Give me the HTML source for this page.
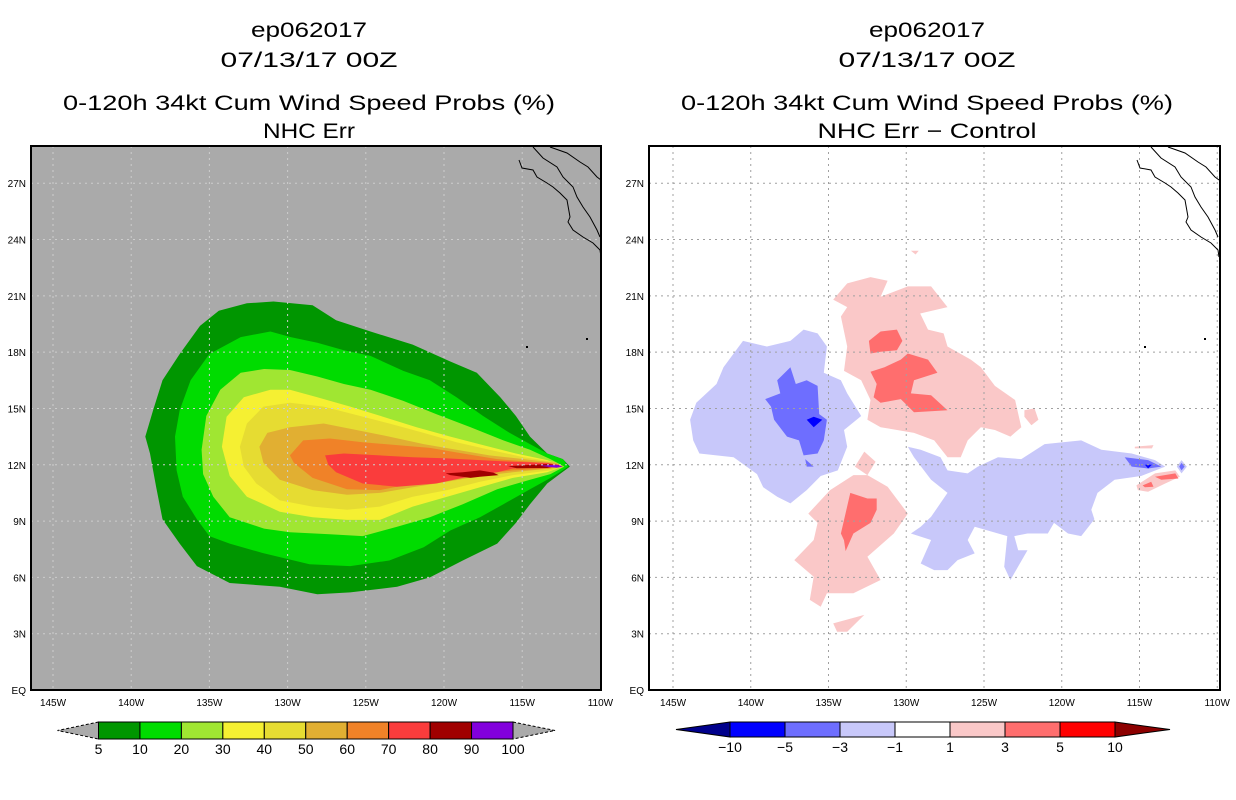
<!DOCTYPE html>
<html><head><meta charset="utf-8">
<style>
html,body{margin:0;padding:0;background:#fff;}
svg{display:block;font-family:"Liberation Sans",sans-serif;}
</style></head>
<body>
<svg id="chart" width="1236" height="800" viewBox="0 0 1236 800" xmlns="http://www.w3.org/2000/svg">
<defs>
<clipPath id="clipL"><rect x="31" y="146" width="570" height="544"/></clipPath>
<clipPath id="clipR"><rect x="649" y="146" width="571" height="544"/></clipPath>
</defs>
<g font-size="21" text-anchor="middle" fill="#000">
<text x="309" y="37" textLength="116" lengthAdjust="spacingAndGlyphs">ep062017</text>
<text x="309" y="67" textLength="177" lengthAdjust="spacingAndGlyphs">07/13/17 00Z</text>
<text x="309" y="110" textLength="492" lengthAdjust="spacingAndGlyphs">0-120h 34kt Cum Wind Speed Probs (%)</text>
<text x="309" y="138" textLength="92" lengthAdjust="spacingAndGlyphs">NHC Err</text>
</g>
<g font-size="21" text-anchor="middle" fill="#000">
<text x="927" y="37" textLength="116" lengthAdjust="spacingAndGlyphs">ep062017</text>
<text x="927" y="67" textLength="177" lengthAdjust="spacingAndGlyphs">07/13/17 00Z</text>
<text x="927" y="110" textLength="492" lengthAdjust="spacingAndGlyphs">0-120h 34kt Cum Wind Speed Probs (%)</text>
<text x="927" y="138" textLength="219" lengthAdjust="spacingAndGlyphs">NHC Err − Control</text>
</g>
<rect x="31" y="146" width="570" height="544" fill="#aaaaaa"/>
<rect x="649" y="146" width="571" height="544" fill="#ffffff"/>
<g id="leftFills" clip-path="url(#clipL)"></g>
<g id="rightFills" clip-path="url(#clipR)"></g>
<g id="grids"></g>
<g id="coasts" fill="none" stroke="#000" stroke-width="1"></g>
<rect x="31" y="146" width="570" height="544" fill="none" stroke="#000" stroke-width="2"/>
<rect x="649" y="146" width="571" height="544" fill="none" stroke="#000" stroke-width="2"/>
<g id="ticks" font-size="10" fill="#000"></g>
<g id="cbars"></g>
</svg>
<script>
const lonTicks = [-145,-140,-135,-130,-125,-120,-115,-110];
const lonTickLabels = ["145W","140W","135W","130W","125W","120W","115W","110W"];
const latTicks = [0,3,6,9,12,15,18,21,24,27];
const latTickLabels = ["EQ","3N","6N","9N","12N","15N","18N","21N","24N","27N"];

const probLevels = ["5","10","20","30","40","50","60","70","80","90","100"];
const probColors = ["#009600","#00dc00","#a0e632","#f5f032","#e6dc32","#e1af32","#f08228","#fa3c3c","#a00000","#8200dc"];
const diffLevels = ["-10","-5","-3","-1","1","3","5","10"];
const diffColors = ["#0000ff","#6e6eff","#c8c8fa","#ffffff","#fac8c8","#ff6e6e","#ff0000"];

const p5 = [[-139.1,13.5],[-138.6,14.9],[-138.0,16.5],[-136.9,17.9],[-135.6,19.4],[-134.4,20.2],[-132.6,20.6],[-130.9,20.7],[-128.4,20.5],[-126.9,19.7],[-124.7,19.1],[-122.0,18.4],[-119.6,17.5],[-117.9,16.9],[-116.4,15.6],[-115.4,14.6],[-114.5,13.5],[-113.4,12.6],[-112.4,12.3],[-111.95,11.9],[-112.6,11.5],[-113.4,11.0],[-114.5,9.9],[-115.4,8.9],[-116.6,7.8],[-118.8,6.9],[-120.9,6.0],[-123.0,5.5],[-126.0,5.2],[-128.1,5.1],[-130.5,5.5],[-133.7,5.7],[-135.8,6.6],[-136.9,7.8],[-138.0,9.1],[-138.4,10.8],[-138.8,12.6]];
const p10 = [[-137.2,13.5],[-136.9,14.9],[-136.2,16.5],[-135.0,17.9],[-133.0,18.8],[-131.1,19.1],[-129.8,18.8],[-128.1,18.5],[-126.4,18.1],[-124.7,17.8],[-122.6,17.0],[-120.9,16.5],[-119.2,15.6],[-117.5,14.6],[-115.8,13.7],[-114.5,13.1],[-113.4,12.6],[-112.4,12.3],[-112.05,11.9],[-112.6,11.6],[-113.4,11.2],[-114.5,10.7],[-116.2,9.9],[-117.7,9.2],[-119.6,8.5],[-121.3,7.6],[-123.5,6.9],[-126.0,6.6],[-128.6,6.7],[-131.6,7.3],[-133.7,7.8],[-135.0,8.2],[-135.8,9.1],[-136.7,10.3],[-137.1,11.7]];
const p20 = [[-135.5,12.8],[-135.2,14.6],[-134.3,16.0],[-133.0,16.9],[-131.5,17.1],[-129.85,17.05],[-128.1,16.7],[-126.4,16.3],[-124.7,16.0],[-122.6,15.4],[-120.5,14.7],[-118.3,14.0],[-116.2,13.3],[-114.5,12.8],[-113.2,12.3],[-112.3,11.9],[-113.2,11.5],[-114.5,11.2],[-116.6,10.7],[-118.8,9.9],[-120.9,9.2],[-123.0,8.7],[-125.2,8.2],[-127.3,8.3],[-129.85,8.4],[-131.5,8.6],[-133.7,9.2],[-134.75,10.3],[-135.4,11.5]];
const p30 = [[-134.2,12.96],[-133.9,14.56],[-132.8,15.6],[-131.1,16.0],[-129.85,16.0],[-128.1,15.6],[-126.0,15.1],[-123.9,14.56],[-121.75,14.0],[-119.6,13.5],[-117.5,13.05],[-115.4,12.6],[-113.4,12.25],[-112.4,11.9],[-113.4,11.6],[-115.6,11.3],[-117.7,10.8],[-119.8,10.3],[-122.0,9.77],[-124.1,9.06],[-126.2,9.06],[-128.4,9.2],[-130.5,9.5],[-132.6,10.3],[-133.7,11.4]];
const p40 = [[-133.05,12.96],[-132.6,14.2],[-131.55,15.1],[-129.85,15.3],[-127.7,15.1],[-125.6,14.65],[-123.5,14.2],[-121.3,13.7],[-119.2,13.2],[-117.1,12.8],[-114.9,12.4],[-113.0,12.16],[-112.4,11.9],[-113.2,11.7],[-115.6,11.45],[-117.7,11.1],[-119.8,10.65],[-122.0,10.3],[-124.1,9.77],[-126.2,9.6],[-128.4,9.77],[-130.5,10.1],[-132.0,11.0],[-132.8,11.9]];
const p50 = [[-131.8,12.96],[-131.3,13.7],[-129.85,14.0],[-127.7,14.2],[-125.6,13.85],[-123.5,13.5],[-121.3,13.1],[-119.2,12.8],[-117.1,12.5],[-114.9,12.3],[-112.8,12.1],[-112.4,11.9],[-113.2,11.8],[-115.6,11.6],[-117.7,11.4],[-119.8,11.1],[-122.0,10.8],[-124.1,10.5],[-126.2,10.4],[-128.4,10.65],[-130.5,11.2],[-131.55,12.1]];
const p60 = [[-129.85,12.5],[-129.0,13.3],[-127.3,13.4],[-125.2,13.2],[-123.0,13.05],[-120.9,12.9],[-118.8,12.6],[-116.6,12.3],[-114.5,12.16],[-112.6,12.0],[-113.2,11.8],[-115.6,11.7],[-117.7,11.5],[-119.8,11.3],[-122.0,11.0],[-124.1,10.65],[-126.2,10.7],[-128.4,11.3],[-129.6,12.1]];
const p70 = [[-127.6,12.5],[-126.4,12.6],[-124.1,12.5],[-122.0,12.4],[-119.8,12.34],[-117.7,12.25],[-115.6,12.16],[-113.4,12.1],[-112.6,11.97],[-113.4,11.86],[-115.6,11.8],[-116.6,11.6],[-118.8,11.3],[-120.5,11.0],[-123.0,10.83],[-125.2,11.0],[-126.9,11.6],[-127.4,12.0]];
const p80a = [[-119.9,11.54],[-118.8,11.6],[-117.7,11.7],[-116.85,11.58],[-116.5,11.45],[-117.7,11.36],[-118.3,11.3],[-119.6,11.45]];
const p80b = [[-115.9,11.93],[-113.4,12.04],[-112.6,11.97],[-113.4,11.83],[-115.35,11.81]];
const p90 = [[-113.9,11.95],[-112.8,12.0],[-112.4,11.9],[-112.8,11.84]];

const dBlueLight1 = [[-143.9,14.4],[-143.5,15.3],[-142.2,16.3],[-141.75,17.2],[-140.5,18.6],[-138.96,18.3],[-137.45,18.6],[-136.6,19.2],[-135.7,19.0],[-135.1,18.3],[-135.3,16.9],[-134.2,16.5],[-133.8,15.8],[-132.9,14.6],[-134.0,13.85],[-133.8,12.96],[-134.4,11.7],[-135.5,11.4],[-136.4,10.65],[-137.45,9.94],[-138.3,10.3],[-139.2,10.8],[-139.6,11.5],[-141.1,12.4],[-143.3,12.6],[-143.7,13.3]];
const dBlueMed1 = [[-139.07,15.5],[-138.1,15.8],[-138.3,16.5],[-137.45,17.2],[-137.1,16.3],[-136.4,16.5],[-135.7,16.2],[-135.6,14.7],[-135.1,14.4],[-135.3,13.3],[-135.7,12.6],[-136.6,12.5],[-136.9,13.3],[-137.67,13.5],[-138.5,14.4],[-138.7,15.1]];
const dBlueMed2 = [[-136.5,12.3],[-135.95,11.9],[-136.4,11.9]];
const dBlueDark1 = [[-136.4,14.4],[-135.95,14.56],[-135.4,14.4],[-135.95,14.0]];
const dBlueLight2 = [[-129.9,12.96],[-129.07,12.8],[-127.8,12.4],[-127.35,11.7],[-126.05,11.54],[-125.4,11.9],[-124.1,12.4],[-122.6,12.3],[-121.1,13.1],[-118.75,13.3],[-117.45,12.8],[-115.5,12.6],[-114.0,12.25],[-113.35,11.9],[-114.9,11.4],[-116.6,11.2],[-117.7,10.5],[-118.1,9.6],[-117.9,9.1],[-118.75,8.2],[-119.6,8.34],[-120.5,8.9],[-120.9,8.34],[-122.2,8.34],[-123.05,8.2],[-122.8,7.45],[-122.2,7.45],[-123.3,5.86],[-123.7,6.57],[-123.5,8.2],[-125.6,8.7],[-126.05,7.99],[-125.6,7.28],[-126.7,6.92],[-127.35,6.39],[-128.2,6.39],[-129.07,6.74],[-128.4,7.99],[-129.7,8.34],[-129.07,8.7],[-128.4,9.23],[-127.35,10.5],[-128.4,11.2],[-129.5,12.4]];
const dBlueMed3 = [[-115.95,12.4],[-114.45,12.25],[-113.6,11.9],[-114.45,11.8],[-115.5,11.9]];
const dBlueDark2 = [[-114.65,12.0],[-114.2,12.0],[-114.45,11.8]];
const dBlueLight3 = [[-112.6,11.9],[-112.3,12.25],[-111.95,11.9],[-112.3,11.54]];
const dBlueMed4 = [[-112.45,11.9],[-112.3,12.1],[-112.1,11.9],[-112.3,11.7]];
const dPinkLight1 = [[-134.7,20.8],[-133.8,21.66],[-132.3,22.0],[-131.2,21.8],[-131.65,20.95],[-129.9,21.5],[-128.4,21.5],[-127.35,20.4],[-129.1,20.06],[-128.6,19.2],[-127.6,19.0],[-127.35,18.3],[-125.85,17.6],[-125.2,17.2],[-124.3,16.2],[-123.0,15.45],[-122.6,14.0],[-123.3,13.5],[-124.3,13.85],[-125.2,14.0],[-126.05,13.3],[-126.5,12.4],[-127.35,12.4],[-128.2,13.3],[-129.5,13.7],[-131.65,14.0],[-132.5,14.4],[-132.3,15.45],[-132.9,16.5],[-134.0,17.0],[-133.8,18.3],[-134.2,19.9],[-133.8,20.4]];
const dPinkMed1 = [[-132.4,18.6],[-131.65,19.1],[-130.6,19.2],[-130.25,18.6],[-130.6,18.1],[-131.65,18.02],[-132.3,17.93]];
const dPinkMed2 = [[-132.3,16.96],[-131.4,17.2],[-130.35,17.6],[-129.9,17.93],[-128.6,17.6],[-128.0,16.9],[-129.5,16.5],[-129.7,15.8],[-128.4,15.7],[-127.35,14.9],[-129.5,14.8],[-130.35,15.5],[-131.65,15.3],[-132.1,15.6],[-131.9,16.3]];
const dPinkLight2 = [[-136.3,9.4],[-134.9,10.65],[-133.4,11.45],[-132.5,11.45],[-131.2,10.83],[-129.9,9.4],[-130.8,8.34],[-132.5,7.1],[-131.65,5.86],[-133.4,5.15],[-135.1,5.15],[-135.5,4.44],[-136.2,4.8],[-135.95,6.03],[-137.2,6.92],[-135.95,7.99],[-135.7,8.9]];
const dPinkLight3 = [[-133.3,11.9],[-132.7,12.7],[-131.97,12.16],[-132.5,11.45]];
const dPinkLight4 = [[-134.7,3.55],[-132.7,4.0],[-133.8,3.1],[-134.45,3.1]];
const dPinkMed3 = [[-134.2,8.34],[-134.0,9.05],[-133.6,10.5],[-132.5,10.2],[-131.9,10.2],[-131.9,9.6],[-132.3,8.9],[-133.4,8.34],[-133.9,7.4],[-134.0,7.98]];
const dPinkLight5 = [[-115.2,10.9],[-114.0,11.54],[-112.7,11.7],[-112.4,11.36],[-113.35,11.0],[-114.45,10.56],[-115.1,10.65]];
const dPinkMed4 = [[-114.0,11.36],[-112.7,11.54],[-112.5,11.27],[-113.6,11.2]];
const dPinkMed5 = [[-114.8,10.9],[-114.25,11.1],[-114.1,10.83],[-114.65,10.8]];
const dPinkLight6 = [[-115.3,12.96],[-114.1,13.05],[-114.2,12.87],[-115.3,12.87]];
const dPinkLight7 = [[-122.4,14.9],[-121.75,15.0],[-121.5,14.4],[-121.95,14.1],[-122.4,14.56]];
const dPinkLight8 = [[-129.7,23.4],[-129.2,23.4],[-129.4,23.2]];

const NS = "http://www.w3.org/2000/svg";
const xL = lon => 53 + (lon + 145) * 15.64;
const xR = lon => 673 + (lon + 145) * 15.55;
const yM = lat => 690 - lat * 18.77;

function poly(parent, pts, xf, fill){
  const p = document.createElementNS(NS, "polygon");
  p.setAttribute("points", pts.map(d => xf(d[0]).toFixed(1) + "," + yM(d[1]).toFixed(1)).join(" "));
  p.setAttribute("fill", fill);
  parent.appendChild(p);
  return p;
}

const lf = document.getElementById("leftFills");
const leftSet = [[p5,0,"contour-5"],[p10,1,"contour-10"],[p20,2,"contour-20"],[p30,3,"contour-30"],[p40,4,"contour-40"],[p50,5,"contour-50"],[p60,6,"contour-60"],[p70,7,"contour-70"],[p80a,8,"contour-80-a"],[p80b,8,"contour-80-b"],[p90,9,"contour-90"]];
leftSet.forEach(s => {
  const el = poly(lf, s[0], xL, probColors[s[1]]);
  
  
});

const rf = document.getElementById("rightFills");
const rightSet = [
 [dBlueLight1,2,"diff-neg-1-3-west"],[dBlueLight2,2,"diff-neg-1-3-east"],[dBlueLight3,2,"diff-neg-1-3-tip"],
 [dPinkLight1,4,"diff-pos-1-3-north"],[dPinkLight2,4,"diff-pos-1-3-south"],[dPinkLight3,4,"diff-pos-1-3-small"],[dPinkLight4,4,"diff-pos-1-3-far-south"],
 [dPinkLight5,4,"diff-pos-1-3-tip"],[dPinkLight6,4,"diff-pos-1-3-tip-north"],[dPinkLight7,4,"diff-pos-1-3-east"],[dPinkLight8,4,"diff-pos-1-3-top"],
 [dBlueMed1,1,"diff-neg-3-5-west"],[dBlueMed2,1,"diff-neg-3-5-small"],[dBlueMed3,1,"diff-neg-3-5-tip"],[dBlueMed4,1,"diff-neg-3-5-diamond"],
 [dPinkMed1,5,"diff-pos-3-5-a"],[dPinkMed2,5,"diff-pos-3-5-b"],[dPinkMed3,5,"diff-pos-3-5-south"],[dPinkMed4,5,"diff-pos-3-5-tip"],[dPinkMed5,5,"diff-pos-3-5-tip-small"],
 [dBlueDark1,0,"diff-neg-5-10-west"],[dBlueDark2,0,"diff-neg-5-10-tip"]
];
rightSet.forEach(s => {
  const el = poly(rf, s[0], xR, diffColors[s[1]]);
  
  
});

const grids = document.getElementById("grids");
const ticks = document.getElementById("ticks");
[[xL,31,601,"#cdcdcd","left"],[xR,649,1220,"#a0a0a0","right"]].forEach(P => {
  const xf = P[0];
  lonTicks.forEach((lon,i) => {
    const x = xf(lon);
    if (x > P[1]+2 && x < P[2]-2) {
      const l = document.createElementNS(NS,"line");
      l.setAttribute("x1",x); l.setAttribute("x2",x); l.setAttribute("y1",146); l.setAttribute("y2",690);
      l.setAttribute("stroke",P[3]); l.setAttribute("stroke-dasharray","2,4");
      
      
      grids.appendChild(l);
    }
    const t = document.createElementNS(NS,"text");
    t.setAttribute("x", Math.min(x, P[2]+2)); t.setAttribute("y", 706); t.setAttribute("text-anchor","middle");
    t.textContent = lonTickLabels[i];
    
    
    ticks.appendChild(t);
  });
  latTicks.forEach((lat,i) => {
    const y = yM(lat);
    if (lat > 0) {
      const l = document.createElementNS(NS,"line");
      l.setAttribute("x1",P[1]); l.setAttribute("x2",P[2]); l.setAttribute("y1",y); l.setAttribute("y2",y);
      l.setAttribute("stroke",P[3]); l.setAttribute("stroke-dasharray","2,4");
      
      
      grids.appendChild(l);
    }
    const t = document.createElementNS(NS,"text");
    t.setAttribute("x", P[1]-5); t.setAttribute("y", y+4); t.setAttribute("text-anchor","end");
    t.textContent = latTickLabels[i];
    
    
    ticks.appendChild(t);
  });
});

const coastLines = [
 "M519,160 L522,168 L533,170 L537,177 L547,183 L553,187 L560,193 L567,200 L570,217 L568,222 L573,230 L583,237 L593,243 L600,250 L601,257",
 "M533,147 L543,158 L557,167 L563,177 L573,187 L577,197 L583,207 L590,217 L597,230 L600,237",
 "M550,147 L567,153 L580,162 L588,167 L597,177 L601,180"
];
const coasts = document.getElementById("coasts");
[0,618].forEach((dx,k) => {
  const g = document.createElementNS(NS,"g");
  g.setAttribute("transform","translate("+dx+",0)");
  
  
  coastLines.forEach(d => {
    const p = document.createElementNS(NS,"path");
    p.setAttribute("d", d);
    g.appendChild(p);
  });
  [[586,338],[526,346]].forEach(c => {
    const r = document.createElementNS(NS,"rect");
    r.setAttribute("x",c[0]); r.setAttribute("y",c[1]); r.setAttribute("width",2); r.setAttribute("height",2);
    r.setAttribute("fill","#000"); r.setAttribute("stroke","none");
    g.appendChild(r);
  });
  coasts.appendChild(g);
});

const cb = document.getElementById("cbars");
function colorbar(x0, w, yTop, h, colors, labels, triL, triR, name){
  const g = document.createElementNS(NS,"g");
  
  
  const n = colors.length;
  const tl = document.createElementNS(NS,"polygon");
  tl.setAttribute("points", x0+","+yTop+" "+(x0-triL[1])+","+(yTop+h/2)+" "+x0+","+(yTop+h));
  tl.setAttribute("fill", triL[0]); tl.setAttribute("stroke","#000"); tl.setAttribute("stroke-dasharray", triL[2]);
  g.appendChild(tl);
  const xe = x0 + n*w;
  const tr = document.createElementNS(NS,"polygon");
  tr.setAttribute("points", xe+","+yTop+" "+(xe+triR[1])+","+(yTop+h/2)+" "+xe+","+(yTop+h));
  tr.setAttribute("fill", triR[0]); tr.setAttribute("stroke","#000"); tr.setAttribute("stroke-dasharray", triR[2]);
  g.appendChild(tr);
  colors.forEach((c,i) => {
    const r = document.createElementNS(NS,"rect");
    r.setAttribute("x", x0+i*w); r.setAttribute("y", yTop); r.setAttribute("width", w); r.setAttribute("height", h);
    r.setAttribute("fill", c); r.setAttribute("stroke","#000"); r.setAttribute("stroke-width","1");
    
    
    g.appendChild(r);
  });
  labels.forEach((lab,i) => {
    const t = document.createElementNS(NS,"text");
    t.setAttribute("x", x0 + i*w); t.setAttribute("y", yTop+h+15);
    t.setAttribute("text-anchor","middle"); t.setAttribute("font-size","14");
    t.textContent = lab;
    
    
    g.appendChild(t);
  });
  cb.appendChild(g);
}
colorbar(98.5, 41.45, 722, 17, probColors, probLevels, ["#aaaaaa",41,"3,2"], ["#aaaaaa",42,"3,2"], "left-colorbar");
colorbar(730, 55, 722, 15, diffColors, diffLevels.map(s=>s.replace("-","−")), ["#00008c",54,""], ["#8c0000",55,""], "right-colorbar");
</script>
</body></html>
